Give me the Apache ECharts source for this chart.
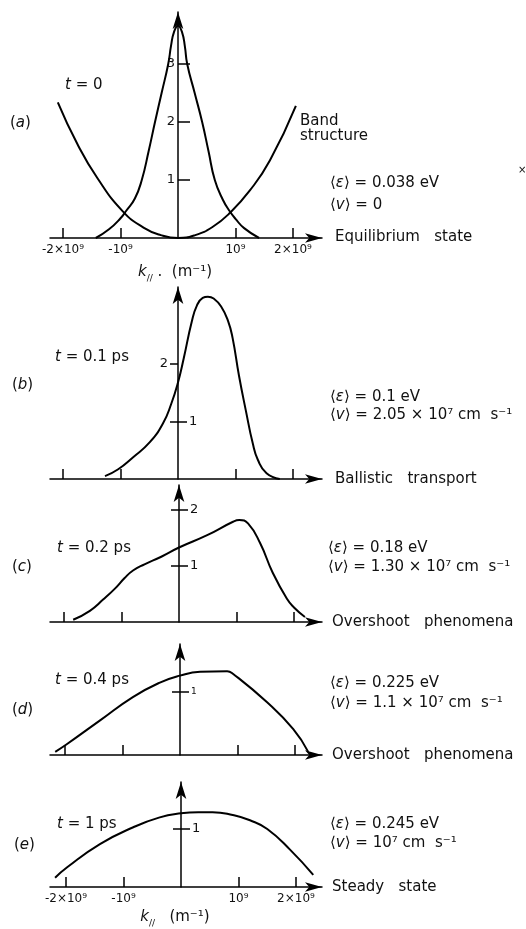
<!DOCTYPE html>
<html>
<head>
<meta charset="utf-8">
<script src="https://cdn.jsdelivr.net/npm/echarts@6/dist/echarts.min.js"></script>
<style>
  html, body { margin: 0; padding: 0; background: #fff; }
  #chart { width: 526px; height: 929px; }
</style>
</head>
<body>
<div id="chart"></div>
<script>
// k is in units of 1e9 m^-1, f is the distribution (arbitrary units)
const xTickVals = [-2, -1, 1, 2];
const xTickLabels = ["-2×10⁹", "-10⁹", "10⁹", "2×10⁹"];

// (a) t = 0, equilibrium
const kA = [-1.43, -1.2, -1.0, -0.9, -0.75, -0.63, -0.51, -0.4, -0.285, -0.17, -0.12, -0.07, 0, 0.07, 0.12, 0.16, 0.29, 0.42, 0.53, 0.64, 0.78, 0.9, 1.0, 1.15, 1.41];
const fA = [0, 0.15, 0.34, 0.47, 0.68, 1.0, 1.5, 2.0, 2.5, 3.0, 3.32, 3.55, 3.66, 3.55, 3.3, 3.0, 2.5, 2.0, 1.5, 1.0, 0.66, 0.46, 0.33, 0.17, 0];
// band structure
const kBand = [-2.09, -1.75, -1.4, -0.96, -0.6, -0.3, 0, 0.3, 0.6, 0.9, 1.25, 1.6, 2.05];
const eBand = [2.34, 1.62, 1.03, 0.46, 0.18, 0.05, 0, 0.05, 0.19, 0.43, 0.82, 1.34, 2.28];

// (b) t = 0.1 ps
const kB = [-1.27, -1.04, -0.78, -0.49, -0.26, -0.12, 0, 0.1, 0.24, 0.33, 0.43, 0.52, 0.62, 0.75, 0.87, 0.95, 1.06, 1.18, 1.3, 1.39, 1.54, 1.77];
const fB = [0.05, 0.17, 0.38, 0.64, 0.97, 1.3, 1.68, 2.1, 2.74, 3.02, 3.15, 3.17, 3.14, 3.0, 2.75, 2.45, 1.8, 1.19, 0.62, 0.33, 0.1, 0.0];

// (c) t = 0.2 ps
const kC = [-1.84, -1.55, -1.32, -1.11, -0.95, -0.8, -0.6, -0.3, 0, 0.49, 0.94, 1.05, 1.2, 1.41, 1.63, 1.88, 2.0, 2.19];
const fC = [0.04, 0.2, 0.4, 0.6, 0.78, 0.92, 1.03, 1.17, 1.33, 1.55, 1.79, 1.82, 1.76, 1.41, 0.88, 0.41, 0.26, 0.09];

// (d) t = 0.4 ps
const kD = [-2.17, -1.97, -1.39, -0.82, -0.35, 0, 0.35, 0.82, 0.92, 1.51, 1.97, 2.23];
const fD = [0.05, 0.17, 0.55, 0.92, 1.15, 1.26, 1.32, 1.33, 1.29, 0.84, 0.41, 0.05];

// (e) t = 1 ps
const kE = [-2.19, -1.98, -1.41, -0.83, -0.37, 0, 0.3, 0.55, 0.9, 1.2, 1.5, 1.9, 2.3];
const fE = [0.16, 0.34, 0.74, 1.03, 1.2, 1.27, 1.29, 1.29, 1.24, 1.15, 1.0, 0.64, 0.21];

// y ticks per panel: ticks left of axis, ticks right, labels left, labels right
const yTicksLeft = [[], [1, 2], [1, 2], [1], [1]];
const yTicksRight = [[1, 2, 3], [1], [1, 2], [1], [1]];
const yLabelsLeft = [[1, 2, 3], [2], [], [], []];
const yLabelsRight = [[], [1], [1, 2], [1], [1]];

const curves = [
  [[kA, fA], [kBand, eBand]],
  [[kB, fB]],
  [[kC, fC]],
  [[kD, fD]],
  [[kE, fE]]
];

// layout (pixels)
const FONT = '"DejaVu Sans", sans-serif';
const PX = 57.5;          // pixels per 1e9 m^-1
const X_LEFT = 50, X_RIGHT = 322;
const layout = [
  { zeroX: 178, baseY: 238, tipY: 12, unitY: 58, tickR: 12, labelSize: 13, marginL: 3 },
  { zeroX: 178, baseY: 479, tipY: 287, unitY: 57.5, tickR: 9, labelSize: 13, marginL: 10 },
  { zeroX: 179, baseY: 622, tipY: 485, unitY: 56, tickR: 9, labelSize: 13, marginL: 10 },
  { zeroX: 180, baseY: 755, tipY: 644, unitY: 63, tickR: 9, labelSize: 9, marginL: 10 },
  { zeroX: 181, baseY: 887, tipY: 782, unitY: 58, tickR: 9, labelSize: 13, marginL: 10 }
];

const axisLineStyle = { color: "#000", width: 1.5 };
const grid = [], xAxis = [], yAxis = [], series = [];

layout.forEach((p, i) => {
  grid.push({ left: X_LEFT, top: p.tipY, width: X_RIGHT - X_LEFT, height: p.baseY - p.tipY, outerBoundsMode: "none" });

  xAxis.push({
    type: "value",
    gridIndex: i,
    min: (X_LEFT - p.zeroX) / PX,
    max: (X_RIGHT - p.zeroX) / PX,
    axisLine: { onZero: false, symbol: ["none", "arrow"], symbolSize: [7, 17], lineStyle: axisLineStyle },
    axisTick: { show: true, inside: true, length: 10, customValues: xTickVals, lineStyle: axisLineStyle },
    axisLabel: {
      show: i === 0 || i === 4,
      customValues: xTickVals,
      margin: 6,
      color: "#111",
      fontSize: 12,
      fontFamily: FONT,
      formatter: (v) => xTickLabels[xTickVals.indexOf(v)]
    },
    splitLine: { show: false }
  });

  const yMax = (p.baseY - p.tipY) / p.unitY;
  const labelStyle = { color: "#111", fontSize: p.labelSize, fontFamily: FONT };
  // shift the y axis from the grid edge onto k = 0
  const shift = -(p.zeroX - X_LEFT);

  yAxis.push({
    type: "value",
    gridIndex: i,
    position: "left",
    offset: shift,
    min: 0,
    max: yMax,
    axisLine: { show: true, onZero: false, symbol: ["none", "arrow"], symbolSize: [8, 17], lineStyle: axisLineStyle },
    axisTick: { show: yTicksLeft[i].length > 0, inside: false, length: 8, customValues: yTicksLeft[i], lineStyle: axisLineStyle },
    axisLabel: Object.assign({ show: yLabelsLeft[i].length > 0, inside: false, margin: p.marginL, customValues: yLabelsLeft[i], formatter: (v) => String(v) }, labelStyle),
    splitLine: { show: false }
  });
  yAxis.push({
    type: "value",
    gridIndex: i,
    position: "left",
    offset: shift,
    min: 0,
    max: yMax,
    axisLine: { show: false, onZero: false },
    axisTick: { show: yTicksRight[i].length > 0, inside: true, length: p.tickR, customValues: yTicksRight[i], lineStyle: axisLineStyle },
    axisLabel: Object.assign({ show: yLabelsRight[i].length > 0, inside: true, margin: p.tickR + 2, customValues: yLabelsRight[i], formatter: (v) => String(v) }, labelStyle),
    splitLine: { show: false }
  });

  curves[i].forEach(([ks, fs]) => {
    series.push({
      type: "line",
      xAxisIndex: i,
      yAxisIndex: 2 * i,
      data: ks.map((k, j) => [k, fs[j]]),
      showSymbol: false,
      smooth: 0.5,
      clip: false,
      silent: true,
      lineStyle: { color: "#000", width: 2 }
    });
  });
});

// text annotations
const rich = {
  i: { font: "italic 15px " + FONT, fill: "#111" },
  s: { font: "9px " + FONT, fill: "#111", verticalAlign: "bottom", lineHeight: 22 }
};
const txt = (x, y, text, extra) => ({
  type: "text",
  x: x,
  y: y,
  silent: true,
  style: Object.assign({ text: text, fontSize: 15, fontFamily: FONT, fill: "#111", align: "left", verticalAlign: "middle", rich: rich }, extra || {})
});

const texts = [
  txt(65, 85, "{i|t} = 0"),
  txt(10, 123, "({i|a})"),
  txt(300, 121, "Band"),
  txt(300, 136, "structure"),
  txt(330, 183, "⟨{i|ε}⟩ = 0.038 eV"),
  txt(330, 205, "⟨{i|v}⟩ = 0"),
  txt(335, 237, "Equilibrium   state"),
  txt(518, 170, "×", { fontSize: 10 }),
  txt(175, 272, "{i|k}{s|//} .  (m⁻¹)", { align: "center" }),

  txt(55, 357, "{i|t} = 0.1 ps"),
  txt(12, 385, "({i|b})"),
  txt(330, 397, "⟨{i|ε}⟩ = 0.1 eV"),
  txt(330, 415, "⟨{i|v}⟩ = 2.05 × 10⁷ cm  s⁻¹"),
  txt(335, 479, "Ballistic   transport"),

  txt(57, 548, "{i|t} = 0.2 ps"),
  txt(12, 567, "({i|c})"),
  txt(328, 548, "⟨{i|ε}⟩ = 0.18 eV"),
  txt(328, 567, "⟨{i|v}⟩ = 1.30 × 10⁷ cm  s⁻¹"),
  txt(332, 622, "Overshoot   phenomena"),

  txt(55, 680, "{i|t} = 0.4 ps"),
  txt(12, 710, "({i|d})"),
  txt(330, 683, "⟨{i|ε}⟩ = 0.225 eV"),
  txt(330, 703, "⟨{i|v}⟩ = 1.1 × 10⁷ cm  s⁻¹"),
  txt(332, 755, "Overshoot   phenomena"),

  txt(57, 824, "{i|t} = 1 ps"),
  txt(14, 845, "({i|e})"),
  txt(330, 824, "⟨{i|ε}⟩ = 0.245 eV"),
  txt(330, 843, "⟨{i|v}⟩ = 10⁷ cm  s⁻¹"),
  txt(332, 887, "Steady   state"),
  txt(175, 917, "{i|k}{s|//}   (m⁻¹)", { align: "center" })
];

const chart = echarts.init(document.getElementById("chart"));
chart.setOption({
  animation: false,
  backgroundColor: "#fff",
  grid: grid,
  xAxis: xAxis,
  yAxis: yAxis,
  series: series,
  graphic: { elements: texts }
});
</script>
</body>
</html>
